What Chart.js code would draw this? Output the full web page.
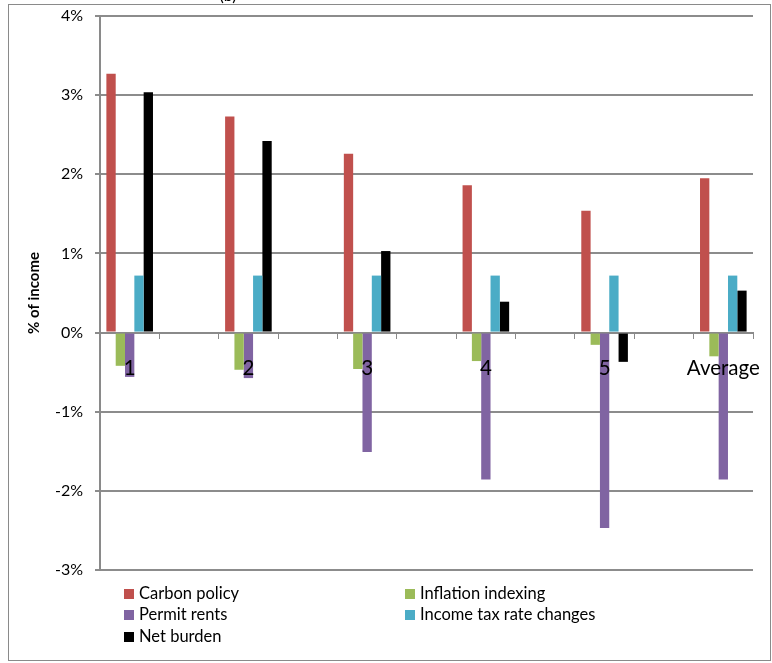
<!DOCTYPE html>
<html>
<head>
<meta charset="utf-8">
<script src="https://cdn.jsdelivr.net/npm/chart.js@4/dist/chart.umd.min.js"></script>
<style>
  html, body { margin: 0; padding: 0; background: #ffffff; }
  #wrap { position: relative; width: 772px; height: 663px; }
</style>
</head>
<body>
<div id="wrap"><canvas id="chart"></canvas></div>
<script>
// Income quintiles plus the average household
const groups = ['1', '2', '3', '4', '5', 'Average'];

// Change in burden by component, % of income
const carbonPolicy      = [3.27, 2.73, 2.26, 1.86, 1.54, 1.95];
const inflationIndexing = [-0.42, -0.47, -0.46, -0.36, -0.155, -0.30];
const permitRents       = [-0.56, -0.575, -1.51, -1.855, -2.47, -1.855];
const incomeTaxChanges  = [0.72, 0.72, 0.72, 0.72, 0.72, 0.72];
const netBurden         = [3.035, 2.42, 1.03, 0.39, -0.37, 0.53];

const yTicks = { min: -3, max: 4, step: 1 };

// Spread the groups out with an empty slot between each pair
function spaced(arr) {
  const out = [];
  arr.forEach((v, i) => { out.push(v); if (i < arr.length - 1) out.push(null); });
  return out;
}
const labels = spaced(groups).map(v => v === null ? '' : v);

const FONT = 'Lato, "Liberation Sans", sans-serif';

const series = [
  { label: 'Carbon policy', data: carbonPolicy, color: '#C0504D' },
  { label: 'Inflation indexing', data: inflationIndexing, color: '#9BBB59' },
  { label: 'Permit rents', data: permitRents, color: '#8064A2' },
  { label: 'Income tax rate changes', data: incomeTaxChanges, color: '#4BACC6' },
  { label: 'Net burden', data: netBurden, color: '#000000' }
];

// Legend laid out in two columns under the plot
const legendSlots = [
  { x: 124, y: 594 }, // Carbon policy
  { x: 405, y: 594 }, // Inflation indexing
  { x: 124, y: 615 }, // Permit rents
  { x: 405, y: 615 }, // Income tax rate changes
  { x: 124, y: 637 }  // Net burden
];

const framePlugin = {
  id: 'frame',
  beforeDraw(chart) {
    const ctx = chart.ctx;
    ctx.save();
    ctx.fillStyle = '#ffffff';
    ctx.fillRect(0, 0, chart.width, chart.height);
    ctx.strokeStyle = '#8a8a8a';
    ctx.lineWidth = 1;
    ctx.strokeRect(8.5, 4.5, 762, 656);
    ctx.fillStyle = '#000000';
    ctx.font = '16px ' + FONT;
    ctx.textAlign = 'center';
    ctx.textBaseline = 'alphabetic';
    ctx.fillText('(b)', 228, 1);
    ctx.restore();
  },
  afterDraw(chart) {
    const ctx = chart.ctx;
    ctx.save();
    ctx.font = '16.5px ' + FONT;
    ctx.textBaseline = 'middle';
    ctx.textAlign = 'left';
    chart.data.datasets.forEach((ds, i) => {
      const s = legendSlots[i];
      ctx.fillStyle = ds.backgroundColor;
      ctx.fillRect(s.x, s.y - 5, 10, 10);
      ctx.fillStyle = '#000000';
      ctx.fillText(ds.label, s.x + 15, s.y);
    });
    ctx.restore();
  }
};

new Chart(document.getElementById('chart'), {
  type: 'bar',
  data: {
    labels: labels,
    datasets: series.map(s => ({
      label: s.label,
      data: spaced(s.data),
      backgroundColor: s.color,
      borderWidth: 0,
      categoryPercentage: 0.785,
      barPercentage: 1.0
    }))
  },
  options: {
    responsive: true,
    maintainAspectRatio: false,
    animation: false,
    layout: { padding: { top: 16, right: 19, bottom: 93, left: 0 } },
    plugins: {
      legend: { display: false },
      tooltip: { enabled: false },
      title: { display: false }
    },
    scales: {
      x: {
        type: 'category',
        position: { y: 0 },
        offset: true,
        afterFit(scale) {
          scale.paddingLeft = 0;
          scale.paddingRight = 0;
        },
        grid: {
          offset: true,
          drawOnChartArea: false,
          drawTicks: true,
          tickLength: 5,
          color: '#8a8a8a',
          lineWidth: 1
        },
        border: { display: true, color: '#8a8a8a', width: 2 },
        ticks: {
          z: 1,
          autoSkip: false,
          maxRotation: 0,
          minRotation: 0,
          padding: 19,
          color: '#000000',
          font: { family: FONT, size: 20.5 }
        }
      },
      y: {
        min: yTicks.min,
        max: yTicks.max,
        afterFit(scale) {
          scale.width = 100;
          scale.paddingTop = 0;
          scale.paddingBottom = 0;
        },
        grid: {
          color: '#8c8c8c',
          lineWidth: 2,
          drawTicks: true,
          tickLength: 5
        },
        border: { display: true, color: '#8a8a8a', width: 2 },
        ticks: {
          stepSize: yTicks.step,
          padding: 12,
          color: '#000000',
          font: { family: FONT, size: 16 },
          callback: v => v + '%'
        },
        title: {
          display: true,
          text: '% of income',
          color: '#000000',
          font: { family: FONT, size: 15, weight: 'bold' },
          padding: { top: 25, bottom: 0 }
        }
      }
    }
  },
  plugins: [framePlugin]
});
</script>
</body>
</html>
